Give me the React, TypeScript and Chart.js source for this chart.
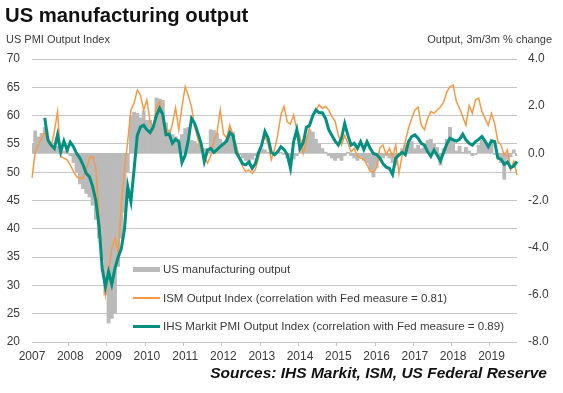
import React, { useEffect, useRef } from 'react';
import { Chart, registerables } from 'chart.js';

Chart.register(...registerables);

// ---------- data ----------
const YEARS = [2007, 2008, 2009, 2010, 2011, 2012, 2013, 2014, 2015, 2016, 2017, 2018, 2019];

// ISM Output Index (left axis), monthly Jan 2007 - Sep 2019
const ISM_OUTPUT = [
  49.0, 53.6, 54.8, 56.0, 57.0, 55.4, 54.5, 57.2, 60.7, 52.8, 52.5, 52.2,
  51.3, 50.1, 49.2, 48.9, 48.9, 50.5, 52.5, 52.8, 50.8, 42.5, 34.0, 28.3,
  32.5, 36.5, 38.3, 35.8, 44.5, 50.5, 55.5, 61.0, 62.2, 64.5, 63.6, 61.0,
  62.8, 59.0, 57.5, 61.5, 62.5, 59.0, 57.8, 56.6, 58.5, 61.4, 57.5, 61.5,
  65.1, 63.5, 61.5, 58.0, 55.8, 53.8, 52.7, 51.6, 52.8, 55.5, 57.0, 61.0,
  56.8, 56.0, 58.3, 56.6, 54.8, 52.5, 51.0, 50.1, 50.4, 49.8, 50.5, 52.5,
  55.0, 56.3, 55.0, 52.2, 54.0, 56.5, 60.1, 61.6, 58.9, 58.5, 60.1, 57.5,
  56.3, 53.3, 55.4, 58.0, 60.1, 61.0, 61.9, 61.3, 61.6, 61.0, 59.8, 59.0,
  56.6, 54.8, 56.5, 55.1, 53.6, 54.2, 52.8, 52.5, 52.3, 51.3, 50.2, 50.0,
  50.8, 54.3, 54.8, 53.1, 54.2, 52.8, 54.8, 49.8, 53.0, 55.4, 57.8, 59.5,
  61.0, 61.5, 58.3, 57.5, 59.5, 60.7, 60.4, 61.0, 61.5, 62.3, 64.2, 65.1,
  65.4, 62.5, 61.3, 59.8, 58.3, 61.8, 60.4, 62.8, 63.1, 60.7, 59.5, 58.3,
  60.4, 58.6, 55.4, 54.8, 53.0, 53.9, 50.4, 51.9, 49.5,
];

// IHS Markit PMI Output Index (left axis), series starts May 2007
const IHS_PMI_OUTPUT = [
  null, null, null, null, 59.6, 55.7, 54.8, 54.2, 56.6, 53.6, 55.5, 53.9,
  55.3, 54.5, 53.3, 52.5, 51.3, 49.8, 49.2, 47.5, 45.0, 40.5, 33.0, 29.8,
  32.4, 30.2, 33.0, 35.0, 36.5, 40.0, 47.5, 44.8, 50.5, 56.5, 58.0, 58.3,
  57.5, 57.0, 58.0, 60.0, 61.3, 60.2, 56.6, 56.7, 55.1, 55.8, 55.4, 51.7,
  53.0, 55.7, 59.5, 58.6, 56.9, 55.1, 51.9, 53.9, 54.2, 53.5, 54.0, 54.5,
  55.0, 55.5, 57.0, 56.5, 53.5, 52.5, 51.5, 51.3, 51.8, 50.7, 51.5, 53.5,
  54.8, 57.2, 56.0, 53.5, 53.1, 53.6, 54.5, 54.0, 53.1, 50.7, 55.4, 57.5,
  54.2, 55.2, 57.9, 58.3, 60.0, 61.0, 60.5, 60.5, 59.5, 57.5, 56.5, 55.5,
  54.8, 56.0, 58.6, 56.5, 54.8, 55.1, 54.2, 55.4, 54.0, 55.4, 54.2, 53.3,
  53.1, 52.5, 51.5, 50.9, 50.7, 49.6, 52.5, 53.0, 53.5, 53.1, 55.4, 56.3,
  56.6, 56.0, 55.1, 54.8, 53.6, 52.8, 53.9, 53.0, 52.0, 53.5, 55.0, 56.0,
  55.7, 55.5, 55.8, 56.7, 55.7, 55.1, 54.8, 55.4, 55.8, 56.3, 55.5, 54.5,
  55.5, 55.4, 52.5, 52.3, 51.4, 51.8, 50.8, 51.1, 51.9,
];

// US manufacturing output, 3m/3m % change (right axis)
const FED_OUTPUT_3M3M = [
  0.4, 0.95, 0.7, 0.85, 1.1, 0.6, 0.35, 0.2, 0.3, 0.15, 0.1, 0.15,
  -0.1, -0.4, -0.8, -1.3, -1.5, -1.7, -1.85, -2.2, -2.8, -3.6, -4.5, -6.0,
  -7.2, -7.0, -6.8, -4.8, -3.6, -2.5, -0.8, 1.6, 1.75, 1.7, 1.5, 1.8,
  1.4, 1.4, 1.2, 2.35, 2.3, 2.25, 1.3, 1.0, 0.8, 0.7, 0.6, 0.8,
  1.05, 1.1, 0.55, 0.5, 0.4, 0.35, 0.2, 0.2, 1.0, 0.97, 0.85, 0.6,
  0.4, 0.6, 1.05, 0.9, 0.1, -0.05, -0.2, -0.3, -0.35, -0.25, -0.1, 0.05,
  0.2, 0.15, 0.05, 0.02, -0.1, 0.1, 0.05, -0.05, -0.2, -0.5, -0.25, -0.1,
  0.25, 0.45, 0.75, 1.0, 0.9, 0.6, 0.4, 0.2, 0.05, -0.1, -0.2, -0.3,
  -0.2, -0.3, -0.1, 0.05, -0.1, -0.2, -0.3, -0.15, -0.3, -0.4, -0.7, -1.0,
  -0.6, -0.3, -0.2, -0.1, -0.2, -0.4, -0.5, -0.1, 0.2, 0.35, 0.4, 0.5,
  0.2, 0.35, 0.2, 0.3, 0.55, 0.6, 0.4, 0.25, -0.5, 0.2, 0.6, 1.1,
  0.6, 0.1, 0.3, 0.05, 0.25, 0.1, -0.1, -0.05, 0.35, 0.55, 0.48, 0.35,
  0.6, -0.05, -0.15, -0.4, -1.1, -0.25, -0.15, 0.15, -0.1,
];

const MONTH_LABELS = YEARS.flatMap((y) =>
  ['01', '02', '03', '04', '05', '06', '07', '08', '09', '10', '11', '12'].map((m) => `${y}-${m}`)
).slice(0, ISM_OUTPUT.length);

const LEGEND_FED = 'US manufacturing output';
const LEGEND_ISM = 'ISM Output Index (correlation with Fed measure = 0.81)';
const LEGEND_IHS = 'IHS Markit PMI Output Index (correlation with Fed measure = 0.89)';

// ---------- styles ----------
const FONT = 'Arial, "Liberation Sans", Helvetica, sans-serif';
const ORANGE = '#F59A48';
const TEAL = '#00907F';
const GRAY = '#BABABA';
const GRID = '#C6C6C6';
const TEXT = '#3C3C3C';

export default function App() {
  const canvasRef = useRef<HTMLCanvasElement | null>(null);

  useEffect(() => {
    document.body.style.margin = '0';
    const canvas = canvasRef.current;
    if (!canvas) return;
    const chart = new Chart(canvas, {
      type: 'bar',
      data: {
        labels: MONTH_LABELS,
        datasets: [
          {
            type: 'line',
            label: LEGEND_IHS,
            data: IHS_PMI_OUTPUT,
            yAxisID: 'y',
            borderColor: TEAL,
            backgroundColor: TEAL,
            borderWidth: 3,
            pointRadius: 0,
            tension: 0,
            order: 1,
          } as any,
          {
            type: 'line',
            label: LEGEND_ISM,
            data: ISM_OUTPUT,
            yAxisID: 'y',
            borderColor: ORANGE,
            backgroundColor: ORANGE,
            borderWidth: 1.5,
            pointRadius: 0,
            tension: 0,
            order: 2,
          } as any,
          {
            type: 'bar',
            label: LEGEND_FED,
            data: FED_OUTPUT_3M3M,
            yAxisID: 'y2',
            backgroundColor: GRAY,
            borderWidth: 0,
            barPercentage: 1,
            categoryPercentage: 1,
            order: 3,
          } as any,
        ],
      },
      options: {
        animation: false,
        responsive: false,
        maintainAspectRatio: false,
        layout: { padding: { top: 59, left: 0, right: 0, bottom: 0 } },
        plugins: {
          legend: { display: false },
          tooltip: { enabled: false },
          title: { display: false },
        },
        scales: {
          x: {
            type: 'category',
            offset: false,
            border: { display: false },
            grid: {
              drawOnChartArea: false,
              drawTicks: true,
              tickLength: 4,
              color: (ctx: any) => (ctx.index % 12 === 0 ? GRID : 'rgba(0,0,0,0)'),
            },
            ticks: {
              autoSkip: false,
              maxRotation: 0,
              minRotation: 0,
              padding: 3,
              color: TEXT,
              font: { family: FONT, size: 12 },
              callback: (_v: any, i: number) => (i % 12 === 0 ? String(YEARS[i / 12]) : ''),
            },
            afterFit: (s: any) => {
              s.height = 51;
            },
          },
          y: {
            position: 'left',
            min: 20,
            max: 70,
            border: { display: false },
            grid: { color: GRID, lineWidth: 1, drawTicks: false },
            ticks: {
              stepSize: 5,
              padding: 12,
              color: TEXT,
              font: { family: FONT, size: 12 },
            },
            afterFit: (s: any) => {
              s.width = 32;
            },
          },
          y2: {
            position: 'right',
            min: -8,
            max: 4,
            border: { display: false },
            grid: { display: false, drawTicks: false },
            ticks: {
              stepSize: 2,
              padding: 11,
              color: TEXT,
              font: { family: FONT, size: 12 },
              callback: (v: any) => Number(v).toFixed(1),
            },
            afterFit: (s: any) => {
              s.width = 46;
            },
          },
        },
      } as any,
    });
    return () => chart.destroy();
  }, []);

  const legendRow = (top: number, symbol: React.ReactNode, text: string) => (
    <div
      style={{
        position: 'absolute',
        left: 133,
        top: top - 8,
        height: 16,
        display: 'flex',
        alignItems: 'center',
        whiteSpace: 'nowrap',
        fontFamily: FONT,
        fontSize: 11.5,
        color: TEXT,
      }}
    >
      <span style={{ display: 'inline-block', width: 27, marginRight: 3 }}>{symbol}</span>
      <span>{text}</span>
    </div>
  );

  return (
    <div style={{ position: 'relative', width: 563, height: 393, background: '#fff', overflow: 'hidden' }}>
      <canvas ref={canvasRef} width={563} height={393} style={{ position: 'absolute', left: 0, top: 0 }} />
      <div
        style={{
          position: 'absolute',
          left: 5,
          top: 5,
          fontFamily: FONT,
          fontWeight: 'bold',
          fontSize: 20.3,
          lineHeight: '20px',
          color: '#111',
          whiteSpace: 'nowrap',
        }}
      >
        US manufacturing output
      </div>
      <div
        style={{
          position: 'absolute',
          left: 6,
          top: 34,
          fontFamily: FONT,
          fontSize: 11,
          lineHeight: '11px',
          color: TEXT,
          whiteSpace: 'nowrap',
        }}
      >
        US PMI Output Index
      </div>
      <div
        style={{
          position: 'absolute',
          right: 11,
          top: 34,
          fontFamily: FONT,
          fontSize: 11,
          lineHeight: '11px',
          color: TEXT,
          whiteSpace: 'nowrap',
        }}
      >
        Output, 3m/3m % change
      </div>
      {legendRow(269, <span style={{ display: 'block', height: 5, background: GRAY }} />, LEGEND_FED)}
      {legendRow(298, <span style={{ display: 'block', height: 1.5, background: ORANGE }} />, LEGEND_ISM)}
      {legendRow(326, <span style={{ display: 'block', height: 3, background: TEAL }} />, LEGEND_IHS)}
      <div
        style={{
          position: 'absolute',
          right: 16,
          top: 365,
          fontFamily: FONT,
          fontWeight: 'bold',
          fontStyle: 'italic',
          fontSize: 15.5,
          lineHeight: '16px',
          color: '#111',
          whiteSpace: 'nowrap',
        }}
      >
        Sources: IHS Markit, ISM, US Federal Reserve
      </div>
    </div>
  );
}
